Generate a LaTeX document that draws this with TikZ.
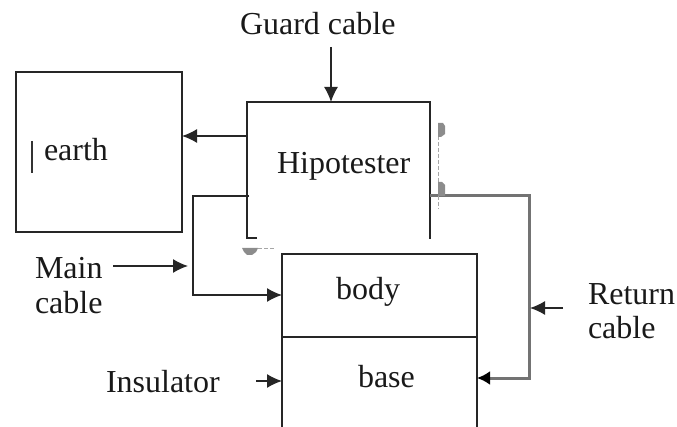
\documentclass[tikz,border=0pt]{standalone}
\usepackage{fontspec}
\setmainfont{Liberation Serif}
\usetikzlibrary{arrows.meta}
\tikzset{
  x=1pt,y=-1pt,
  boxline/.style={draw=black!85,line width=1.5pt},
  conn/.style={draw=black!85,line width=1.4pt},
  tipped/.style={conn,-{Latex[length=15pt,width=14pt]}},
  greyconn/.style={draw=black!55,line width=3pt},
  greytip/.style={greyconn,-{Latex[length=13pt,width=14pt,color=black]}},
  lab/.style={anchor=base west,inner sep=0pt,outer sep=0pt,text=black!90,font=\fontsize{32}{32}\selectfont},
  blob/.style={fill=black!45,draw=none},
  dash grey/.style={draw=black!35,line width=0.8pt,dash pattern=on 4pt off 2pt},
  sq/.style={rectangle,boxline,inner sep=0pt}
}
\begin{document}
\begin{tikzpicture}
\useasboundingbox (0,0) rectangle (677,427);
\clip (0,0) rectangle (677,427);
% earth box
\node[sq,minimum width=166pt,minimum height=160pt] (earth) at (99,152) {};
\draw[black!80,line width=1.5pt] (32,141) -- (32,173);
\node[lab] (earthtxt) at (44,161) {earth};
% hipotester (open-bottom box)
\coordinate (hbl) at (247,238);
\coordinate (htl) at (247,102);
\coordinate (htr) at (430,102);
\coordinate (hbr) at (430,239);
\coordinate (htail) at (257,238);
\draw[boxline] (htail) -- (hbl) -- (htl) -- (htr) -- (hbr);
\node[lab] (hipo) at (277,174) {Hipotester};
% body and base
\node[sq,minimum width=195pt,minimum height=83pt] (body) at (379.5,295.5) {};
\node[sq,minimum width=195pt,minimum height=110pt] (base) at (379.5,392) {};
\node[lab] (bodytxt) at (336,300) {body};
\node[lab] (basetxt) at (358,387) {base};
% labels
\node[lab] (guard) at (240,35) {Guard cable};
\node[lab] (main) at (35,279) {Main};
\node[lab] (mcable) at (35,314) {cable};
\node[lab] (ret) at (588,305) {Return};
\node[lab] (rcable) at (588,339) {cable};
\node[lab] (ins) at (106,392) {Insulator};
% connector anchors
\coordinate (gs) at (331,47);
\coordinate (ge) at (331,102);
\coordinate (hl) at (247,136);
\coordinate (el) at (182,136);
\coordinate (ms) at (249,196);
\coordinate (mc) at (193,196);
\coordinate (md) at (193,295);
\coordinate (bl) at (282,295);
\coordinate (mas) at (113,266);
\coordinate (mae) at (188,266);
\coordinate (rs) at (430,196);
\coordinate (rc) at (529,196);
\coordinate (rd) at (529,378);
\coordinate (rb) at (477,378);
\coordinate (ras) at (563,308);
\coordinate (rae) at (530,308);
\coordinate (is) at (256,381);
\coordinate (ie) at (282,381);
% connectors
\draw[tipped] (gs) -- (ge);
\draw[tipped] (hl) -- (el);
\draw[tipped] (ms) -- (mc) -- (md) -- (bl);
\draw[tipped] (mas) -- (mae);
\draw[greytip] (rs) -- (rc) -- (rd) -- (rb);
\draw[tipped] (ras) -- (rae);
\draw[tipped] (is) -- (ie);
% stray grey marks
\draw[dash grey] (438,136) -- (438,209);
\draw[dash grey] (258,248) -- (275,248);
\fill[blob] (438,123) -- (443,123) -- (445,126) -- (445,134) -- (441,137) -- (438,137) -- cycle;
\fill[blob] (438,182) -- (442,182) -- (445,185) -- (445,196) -- (438,196) -- cycle;
\fill[blob] (242,248) -- (258,248) -- (256,252) -- (252,255) -- (247,255) -- (244,252) -- cycle;
\end{tikzpicture}
\end{document}
